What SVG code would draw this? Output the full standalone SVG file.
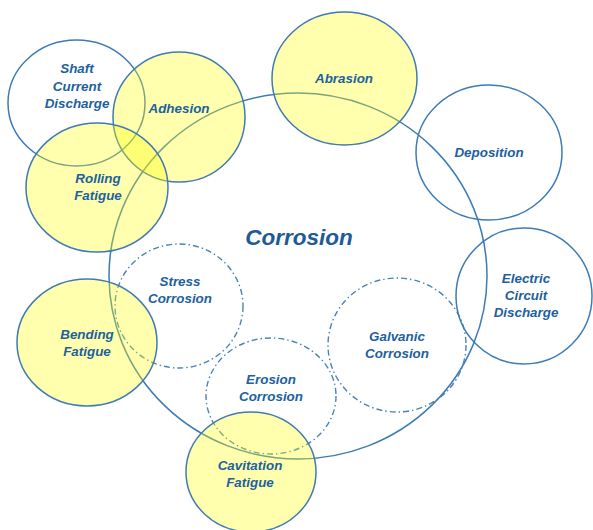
<svg xmlns="http://www.w3.org/2000/svg" width="593" height="530" viewBox="0 0 593 530">
<style>
.c{fill:none;stroke:#3E7BB5;stroke-width:1.5}
.y{fill:#FFFF00;fill-opacity:0.32;stroke:#3E7BB5;stroke-width:1.5}
.d{fill:none;stroke:#4A83BA;stroke-width:1.4;stroke-dasharray:6 3 1.5 3}
text{font-family:"Liberation Sans",Arial,sans-serif;font-weight:bold;font-style:italic;fill:#215F9E;text-anchor:middle;font-size:13.4px}
.big{font-size:22.5px;fill:#1E5A98}
</style>
<rect width="593" height="530" fill="#FFFFFF"/>
<g id="corrosion"><ellipse class="c" cx="298" cy="276" rx="189" ry="183"/><text class="big" x="299" y="245">Corrosion</text></g>
<g id="stress"><ellipse class="d" cx="179" cy="306" rx="64" ry="62"/><text x="180" y="286">Stress</text><text x="180" y="303">Corrosion</text></g>
<g id="erosion"><ellipse class="d" cx="271" cy="396" rx="65" ry="58"/><text x="271" y="384">Erosion</text><text x="271" y="401">Corrosion</text></g>
<g id="galvanic"><ellipse class="d" cx="397" cy="345" rx="69" ry="67"/><text x="397" y="341">Galvanic</text><text x="397" y="358">Corrosion</text></g>
<g id="shaft"><ellipse class="c" cx="76.5" cy="103" rx="68.5" ry="63"/><text x="77" y="73">Shaft</text><text x="77" y="91">Current</text><text x="77" y="108">Discharge</text></g>
<g id="deposition"><ellipse class="c" cx="489" cy="152.5" rx="73" ry="67.5"/><text x="489" y="157">Deposition</text></g>
<g id="electric"><ellipse class="c" cx="524" cy="296" rx="68" ry="68"/><text x="526" y="283">Electric</text><text x="526" y="300">Circuit</text><text x="526" y="317">Discharge</text></g>
<g id="adhesion"><ellipse class="y" cx="179" cy="117" rx="66" ry="65"/><text x="179" y="113">Adhesion</text></g>
<g id="rolling"><ellipse class="y" cx="97" cy="187.5" rx="71" ry="64.5"/><text x="98" y="183">Rolling</text><text x="98" y="200">Fatigue</text></g>
<g id="abrasion"><ellipse class="y" cx="344.5" cy="78.5" rx="72.5" ry="66.5"/><text x="344" y="83">Abrasion</text></g>
<g id="bending"><ellipse class="y" cx="87" cy="342.5" rx="70" ry="63.5"/><text x="87" y="339">Bending</text><text x="87" y="356">Fatigue</text></g>
<g id="cavitation"><ellipse class="y" cx="251" cy="472" rx="65" ry="60"/><text x="250" y="470">Cavitation</text><text x="250" y="487">Fatigue</text></g>
<g id="connectors"></g>
</svg>
